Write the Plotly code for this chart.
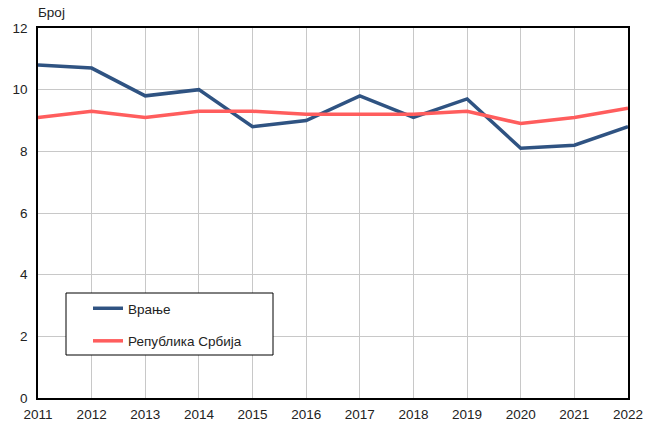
import plotly.graph_objects as go

years = [2011, 2012, 2013, 2014, 2015, 2016, 2017, 2018, 2019, 2020, 2021, 2022]
vranje = [10.8, 10.7, 9.8, 10.0, 8.8, 9.0, 9.8, 9.1, 9.7, 8.1, 8.2, 8.8]
srbija = [9.1, 9.3, 9.1, 9.3, 9.3, 9.2, 9.2, 9.2, 9.3, 8.9, 9.1, 9.4]
series_names = ["Врање", "Република Србија"]
y_title = "Број"

BLUE = "#2f5382"
RED = "#ff5d5d"
FONT = "Liberation Sans, Arial, sans-serif"
FS = 13.5

fig = go.Figure()
fig.add_trace(go.Scatter(x=years, y=vranje, mode="lines", name=series_names[0],
                         line=dict(color=BLUE, width=3.5), legendgroup="a"))
fig.add_trace(go.Scatter(x=years, y=srbija, mode="lines", name=series_names[1],
                         line=dict(color=RED, width=3.5), legendgroup="b"))

L, R, T, B = 38, 27, 28, 25
W, H = 655, 423
pw, ph = W - L - R, H - T - B

def px_x(p):
    return (p - L) / pw

def px_y(p):
    return (H - B - p) / ph

# legend frame
fig.add_shape(type="rect", xref="paper", yref="paper",
              x0=px_x(66), x1=px_x(273), y0=px_y(355), y1=px_y(293),
              line=dict(color="black", width=1), fillcolor="white", layer="above")

fig.add_annotation(text=y_title, xref="paper", yref="paper", x=px_x(36), y=px_y(12),
                   xanchor="left", yanchor="middle", showarrow=False,
                   font=dict(family=FONT, size=FS, color="#222"))

fig.update_layout(
    width=W, height=H,
    margin=dict(l=L, r=R, t=T, b=B, autoexpand=False),
    paper_bgcolor="white", plot_bgcolor="white",
    font=dict(family=FONT, size=FS, color="#222"),
    showlegend=True,
    legend=dict(x=px_x(88), y=px_y(293), xanchor="left", yanchor="top",
                bgcolor="rgba(0,0,0,0)", borderwidth=0,
                traceorder="grouped", tracegroupgap=12,
                font=dict(family=FONT, size=FS, color="#222"),
                itemwidth=30),
    xaxis=dict(range=[2011, 2022], tickmode="array", tickvals=years,
               ticktext=[str(y) for y in years], automargin=False,
               showgrid=True, gridcolor="#c8c8c8", gridwidth=1,
               showline=True, linecolor="black", linewidth=1.5, mirror=True,
               ticks="", zeroline=False, ticklabelstandoff=3),
    yaxis=dict(range=[0, 12], tickvals=[0, 2, 4, 6, 8, 10, 12], automargin=False,
               showgrid=True, gridcolor="#c8c8c8", gridwidth=1,
               showline=True, linecolor="black", linewidth=1.5, mirror=True,
               ticks="", zeroline=False, ticklabelstandoff=6),
)

fig.write_html("out.html")
